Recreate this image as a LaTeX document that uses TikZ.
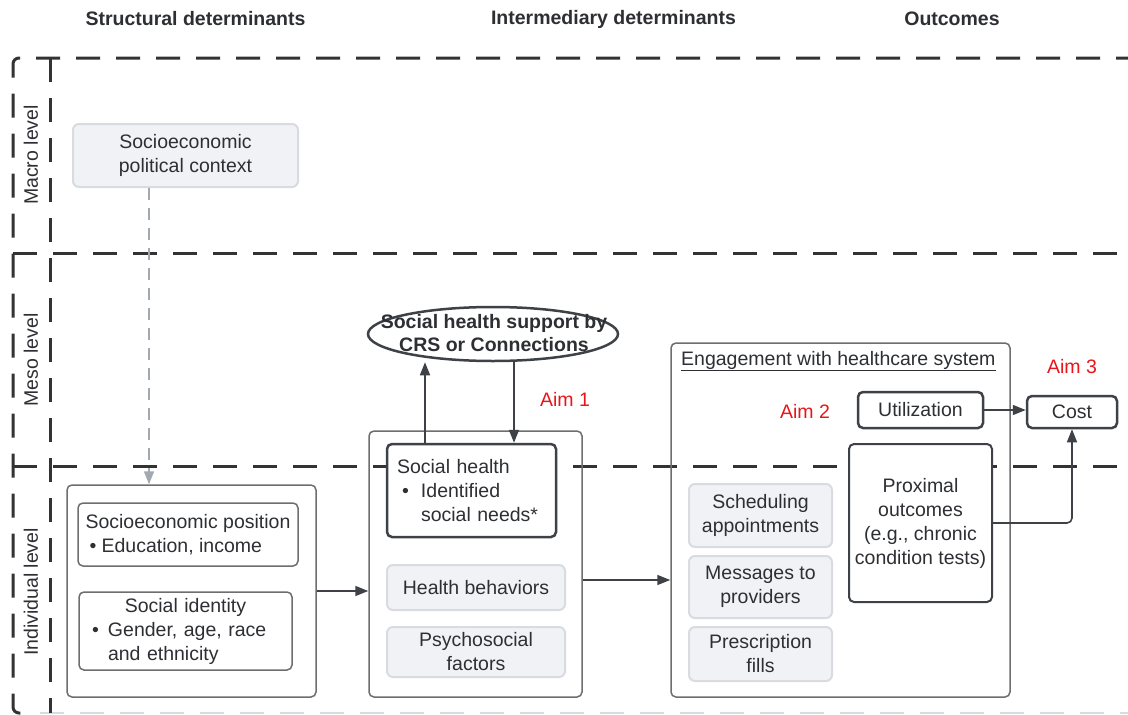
\documentclass[tikz,border=0pt]{standalone}
\usepackage{fontspec}
\setmainfont{Liberation Sans}
\usetikzlibrary{arrows.meta,shapes.geometric,calc}
\definecolor{txt}{HTML}{2D2F33}
\definecolor{lane}{HTML}{333333}
\definecolor{cont}{HTML}{6E6E6E}
\definecolor{dark}{HTML}{3E4247}
\definecolor{lfill}{HTML}{F1F2F5}
\definecolor{lborder}{HTML}{D8DBE0}
\definecolor{gline}{HTML}{A3A9B3}
\definecolor{aimred}{HTML}{E8161B}
\newcommand{\bulbox}[1]{\makebox[#1][l]{\textbullet}}
\begin{document}
\begin{tikzpicture}[x=1pt,y=-1pt,
  every node/.style={font=\fontsize{19.5}{24}\selectfont, text=txt},
  lanestyle/.style={draw=lane, line width=3pt, dash pattern=on 24pt off 16pt},
  lanebottom/.style={draw=lborder, line width=2pt, dash pattern=on 24pt off 16pt},
  container/.style={draw=cont, line width=1.5pt, rounded corners=5pt},
  darkbox/.style={draw=dark, line width=2.5pt, rounded corners=5pt, fill=white},
  lightbox/.style={draw=lborder, fill=lfill, line width=2pt, rounded corners=6pt, align=center},
  arr/.style={draw=dark, line width=1.6pt, -{Triangle[length=13pt,width=10pt]}},
  grayarr/.style={draw=gline, line width=1.5pt, dash pattern=on 12pt off 8pt, -{Triangle[length=13pt,width=10pt]}},
  head/.style={font=\fontsize{19.5}{24}\selectfont\bfseries},
  aim/.style={text=aimred},
]
\useasboundingbox (0,0) rectangle (1128,715);
\clip (0,0) rectangle (1128,715);
\fill[white] (0,0) rectangle (1128,715);

% headings
\node[head] (h1) at (195.5,19) {Structural determinants};
\node[head] (h2) at (613.5,19) {Intermediary determinants};
\node[head] (h3) at (952,19) {Outcomes};

% lanes
\draw[lanebottom] (40,713) -- (1140,713);
\draw[lanestyle, rounded corners=6pt] (1140,58) -- (13,58) -- (13,713) -- (30,713);
\draw[lanestyle] (13,253) -- (1140,253);
\draw[lanestyle] (13,466) -- (1140,466);
\draw[lanestyle] (50,58) -- (50,713);

\node[rotate=90] (macro) at (31,155) {Macro level};
\node[rotate=90] (meso) at (31,360) {Meso level};
\node[rotate=90] (indiv) at (31,592) {Individual level};

% structural
\node[lightbox, minimum width=225pt, minimum height=63pt] (spc) at (185.5,155.5) {Socioeconomic\\political context};
\node[container, minimum width=249pt, minimum height=212pt] (struct) at (191.5,591) {};
\node[draw=cont, line width=1.5pt, rounded corners=5pt, minimum width=220pt, minimum height=63pt, align=left] (sep) at (188,534.5)
  {Socioeconomic position\\\hspace*{4pt}\bulbox{12pt}Education, income};
\node[draw=cont, line width=1.5pt, rounded corners=5pt, minimum width=213pt, minimum height=78pt, text width=195pt, inner xsep=9pt, align=left] (sid) at (185.5,631)
  {\makebox[195pt]{Social identity}\\\hspace*{4pt}\bulbox{16pt}Gender, age, race\\\hspace*{20pt}and ethnicity};

% intermediary
\node[container, minimum width=213pt, minimum height=266pt] (inter) at (475.5,564) {};
\node[darkbox, minimum width=169pt, minimum height=93pt, text width=149pt, inner xsep=10pt, align=left] (sh) at (471.5,490.5)
  {Social health\\\hspace*{5pt}\bulbox{19pt}Identified\\\hspace*{24pt}social needs*};
\node[lightbox, minimum width=178pt, minimum height=45pt] (hb) at (476,587.5) {Health behaviors};
\node[lightbox, minimum width=178pt, minimum height=50pt] (psy) at (476,652) {Psychosocial\\factors};

\node[ellipse, draw=dark, line width=2.5pt, fill=white, minimum width=250pt, minimum height=54pt, inner sep=0pt] (ell) at (493,334) {};
\node[font=\fontsize{19.5}{23}\selectfont\bfseries, align=center, inner sep=0pt] (elltxt) at (494,333) {Social health support by\\CRS or Connections};
\node[aim] (aim1) at (565,399) {Aim 1};

% engagement
\node[container, minimum width=339pt, minimum height=354pt] (eng) at (840.5,520) {};
\node[anchor=west, inner sep=0pt] (engt) at (681,361) {\underline{Engagement with healthcare system}};
\node[aim] (aim2) at (805,411) {Aim 2};
\node[aim] (aim3) at (1072,367) {Aim 3};
\node[darkbox, minimum width=125pt, minimum height=36pt] (util) at (920.5,410) {Utilization};
\node[darkbox, minimum width=90pt, minimum height=32pt] (cost) at (1072,412) {Cost};
\node[darkbox, line width=2pt, minimum width=143pt, minimum height=158pt, align=center, inner xsep=5pt] (prox) at (920.5,523)
  {Proximal\\outcomes\\(e.g., chronic\\condition tests)};
\node[lightbox, minimum width=143pt, minimum height=63pt] (sched) at (760.5,515.5) {Scheduling\\appointments};
\node[lightbox, minimum width=143pt, minimum height=62pt] (msg) at (760.5,587) {Messages to\\providers};
\node[lightbox, minimum width=143pt, minimum height=54pt] (presc) at (760.5,654) {Prescription\\fills};

% connectors
\draw[grayarr] ([xshift=-36.5pt]spc.south) -- ([xshift=-36.5pt]spc.south |- struct.north);
\draw[arr] (struct.east) -- (struct.east -| inter.west);
\draw[arr] ([yshift=-16pt]inter.east) -- ([yshift=-16pt]inter.east -| eng.west);
\draw[arr] ([xshift=-46.5pt]sh.north) -- ([xshift=-46.5pt]sh.north |- ell.south);
\draw[arr] ([xshift=42.5pt]sh.north |- ell.south) -- ([xshift=42.5pt]sh.north);
\draw[arr] (util.east) -- (util.east -| cost.west);
\draw[arr, rounded corners=5pt] (prox.east) -| (cost.south);
\end{tikzpicture}
\end{document}
